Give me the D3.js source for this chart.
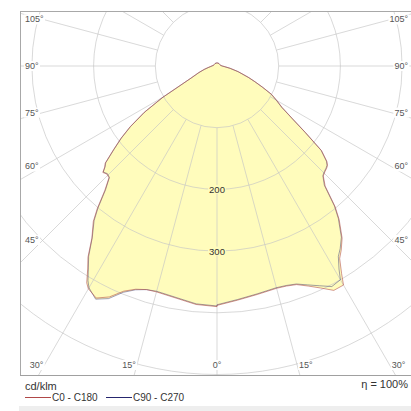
<!DOCTYPE html>
<html>
<head>
<meta charset="utf-8">
<script src="https://cdn.jsdelivr.net/npm/d3@7"></script>
<style>
  body { margin: 0; background: #fff; }
  svg text { font-family: Arial, "Liberation Sans", sans-serif; }
</style>
</head>
<body>
<div class="canva"></div>
<script>
// gamma angles (deg from nadir), shared by all four half planes
var angles = [0,5,10,15,17.5,20,22.5,25,27.5,30,31,32.5,34,36,38.5,40,42,44,45.5,47,48,49,51,53,55,57.5,60,62.5,65,67.5,70,75,80,85,90,100,120,140,160,180];
// cd/klm
var c0   = [388,381,376,373,374,377,386,397,410,410,392,370,360,345,318,298,262,248,245,243,241,236,218,180,150,125,112,100,82,67,55,36,22,13,9,6,5,5,5,5];
var c180 = [390,388,382,379,380,385,395,413,424,417,410,390,374,345,322,302,272,252,250,253,245,240,216,195,172,140,102,64,47,38,32,22,15,11,9,6,5,5,5,5];
var c90  = [387,380,375,372,373,376,384,393,403,400,384,366,357,343,316,296,260,247,244,242,240,235,217,179,149,124,111,99,81,66,54,35,21,12,8,6,5,5,5,5];
var c270 = [389,387,381,378,380,386,397,416,426,415,406,388,372,344,320,300,270,251,249,252,244,239,215,194,171,139,101,63,46,37,31,21,14,10,8,6,5,5,5,5];

var rings = [100,200,300,400,500,600];
var ringLabels = [200,300];
var angleTicks = [0,15,30,45,60,75,90,105];
var legendNames = ["C0 - C180","C90 - C270"];
var legendColors = ["#b04848","#26266e"];

var W = 411, H = 411;
var box = {left: 20, top: 11, right: 411, bottom: 375};
var cx = 217, cy = 66;

var r = d3.scaleLinear().domain([0,500]).range([0,308.5]);
var rad = function(d){ return d*Math.PI/180; };

var svg = d3.select(".canva").append("svg")
  .attr("width", W).attr("height", H);

svg.append("clipPath").attr("id","plotclip")
  .append("rect")
  .attr("x", box.left).attr("y", box.top)
  .attr("width", box.right-box.left).attr("height", box.bottom-box.top);

var plot = svg.append("g").attr("clip-path","url(#plotclip)");
var g = plot.append("g").attr("transform","translate(" + cx + "," + cy + ")");

// radial line: a = pi - gamma on the right, pi + gamma on the left
var line = d3.lineRadial()
  .angle(function(d){ return d[0]; })
  .radius(function(d){ return r(d[1]); })
  .curve(d3.curveLinearClosed);

function outline(right, left) {
  var pts = [];
  for (var i=0;i<angles.length;i++) pts.push([Math.PI - rad(angles[i]), right[i]]);
  for (var j=angles.length-1;j>=0;j--) pts.push([Math.PI + rad(angles[j]), left[j]]);
  return pts;
}
var p1 = outline(c0, c180), p2 = outline(c90, c270);

// fill
g.append("path").attr("d", line(p1)).attr("fill","#fffcbc");
g.append("path").attr("d", line(p2)).attr("fill","#fffcbc");

// grid rings
g.selectAll(".ring").data(rings).enter().append("circle")
  .attr("r", function(d){ return r(d); })
  .attr("fill","none").attr("stroke","#c4c4c4").attr("stroke-opacity",0.65).attr("stroke-width",1);

// grid rays, every 15 deg from the 100 ring outwards
var rays = d3.range(0,360,15);
g.selectAll(".ray").data(rays).enter().append("line")
  .attr("x1", function(d){ return r(100)*Math.sin(rad(d)); })
  .attr("y1", function(d){ return r(100)*Math.cos(rad(d)); })
  .attr("x2", function(d){ return r(800)*Math.sin(rad(d)); })
  .attr("y2", function(d){ return r(800)*Math.cos(rad(d)); })
  .attr("stroke","#c4c4c4").attr("stroke-opacity",0.65).attr("stroke-width",1);

// curves
g.append("path").attr("d", line(p2)).attr("fill","none")
  .attr("stroke", legendColors[1]).attr("stroke-opacity",0.55).attr("stroke-width",0.8);
g.append("path").attr("d", line(p1)).attr("fill","none")
  .attr("stroke", legendColors[0]).attr("stroke-opacity",0.7).attr("stroke-width",0.8);

// ring labels on the 0 deg line
ringLabels.forEach(function(v){
  var t = g.append("text").attr("x",0).attr("y", r(v)+3.5)
    .attr("text-anchor","middle").attr("font-size","9.5px").attr("fill","#333").text(v);
  var b = t.node().getBBox();
  g.insert("rect", function(){ return t.node(); })
    .attr("x",b.x-1).attr("y",b.y+1).attr("width",b.width+2).attr("height",b.height-2)
    .attr("fill","#fffcbc");
});

// border
svg.append("line").attr("x1",box.left+0.5).attr("x2",box.left+0.5).attr("y1",box.top).attr("y2",box.bottom)
  .attr("stroke","#a8a8a8");
svg.append("line").attr("x1",box.left).attr("x2",box.right).attr("y1",box.top+0.5).attr("y2",box.top+0.5)
  .attr("stroke","#a8a8a8");
svg.append("line").attr("x1",box.left).attr("x2",box.right).attr("y1",box.bottom+0.5).attr("y2",box.bottom+0.5)
  .attr("stroke","#a0a0a0");

// angle labels where the rays leave the inner frame
var inL = 43, inR = 391, inB = 365;
function addLabel(x, y, anchor, txt) {
  var t = svg.append("text").attr("x",x).attr("y",y+3)
    .attr("text-anchor",anchor).attr("font-size","9px").attr("fill","#555").text(txt);
  var b = t.node().getBBox();
  svg.insert("rect", function(){ return t.node(); })
    .attr("x",b.x-1).attr("y",b.y).attr("width",b.width+2).attr("height",b.height)
    .attr("fill","#fff");
}
angleTicks.forEach(function(a){
  var s = Math.sin(rad(a)), c = Math.cos(rad(a));
  var txt = a + "\u00b0";
  if (a === 0) { addLabel(cx, inB, "middle", txt); return; }
  var ySide = cy + (cx-inL)*c/s;
  if (ySide <= inB) {
    addLabel(box.left+5, ySide, "start", txt);
    addLabel(box.right-3, ySide, "end", txt);
  } else {
    var dx = (inB-cy)*s/c;
    addLabel(cx-dx-1, inB, "end", txt);
    addLabel(cx+dx+2, inB, "start", txt);
  }
});

// legend
svg.append("text").attr("x",25).attr("y",390).attr("font-size","11px").attr("fill","#333").text("cd/klm");
svg.append("text").attr("x",408).attr("y",388).attr("text-anchor","end").attr("font-size","11px").attr("fill","#333")
  .text("\u03b7 = 100%");
var lx = [25,106];
legendNames.forEach(function(n,i){
  svg.append("line").attr("x1",lx[i]).attr("x2",lx[i]+26).attr("y1",397.5).attr("y2",397.5)
    .attr("stroke",legendColors[i]).attr("stroke-width",1);
  svg.append("text").attr("x",lx[i]+27).attr("y",401).attr("font-size","10px").attr("fill","#333").text(n);
});

// grey strip at the bottom
svg.append("rect").attr("x",19).attr("y",406).attr("width",W-19).attr("height",5).attr("fill","#eeeeee");
</script>
</body>
</html>
